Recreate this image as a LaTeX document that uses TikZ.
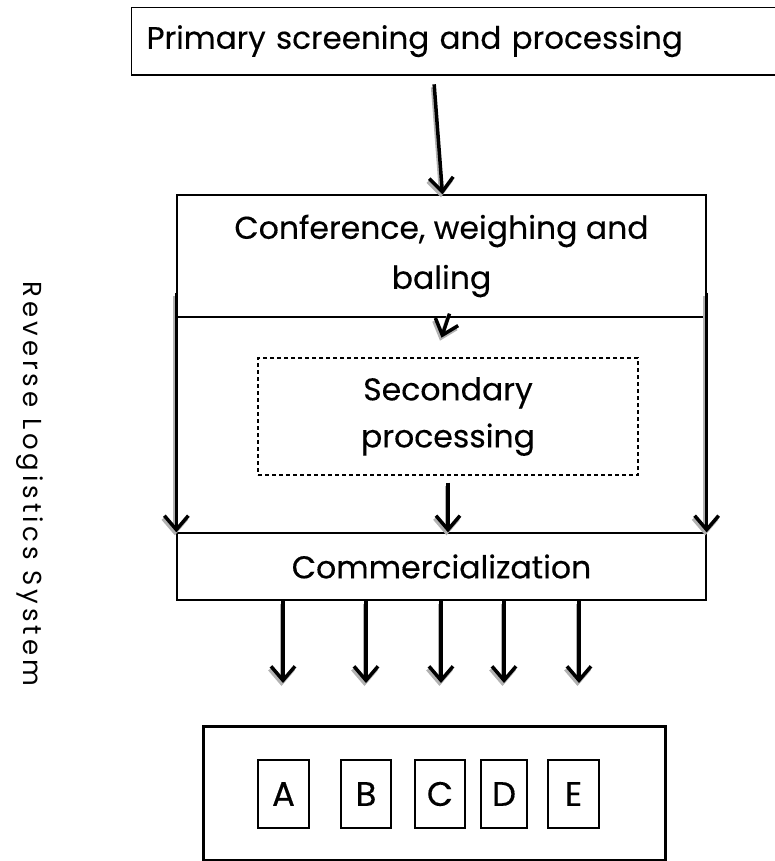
\documentclass[tikz,border=0pt]{standalone}
\usepackage{fontspec}
\setmainfont{Poppins}[FakeBold=0.3]
\newfontfamily\sidefont{Poppins}[LetterSpace=15]
\usetikzlibrary{arrows.meta,calc}
\begin{document}
\begin{tikzpicture}[x=1pt,y=-1pt,
  box/.style={draw, line width=1.3pt, inner sep=0pt},
  tipstyle/.style={-{Straight Barb[length=14pt,width=24pt]}},
  arr/.style={line width=3.5pt, tipstyle,
    preaction={draw=gray!60, line width=3.5pt, tipstyle, transform canvas={shift={(-1.5pt,-3pt)}}}},
  lbl/.style={font=\fontsize{31.5}{50}\selectfont, align=center},
  letter/.style={box, minimum height=68pt, font=\fontsize{34}{38}\selectfont}
]
\useasboundingbox (0,0) rectangle (775,861);

\node[box, anchor=north west, minimum height=67pt, text width=639pt, inner xsep=15pt, align=left, font=\fontsize{31}{36}\selectfont] (top) at (131,7) {Primary screening and processing};
\draw[line width=2.2pt] (top.south west) -- (top.south east);

\node[box, lbl, minimum width=529pt, minimum height=122pt] (conf) at (441.5,256) {Conference, weighing and\\baling};

\node[box, lbl, dashed, dash pattern=on 4pt off 3pt, minimum width=380pt, minimum height=117pt, font=\fontsize{31.5}{47}\selectfont] (sec) at (448,416.5) {Secondary\\processing};

\node[box, lbl, minimum width=529pt, minimum height=67pt] (com) at (441.5,566.5) {Commercialization};

\node[box, line width=3pt, minimum width=462pt, minimum height=134pt] (out) at (434,793) {};

\node[letter, minimum width=51pt] (A) at (283.5,794) {A};
\node[letter, minimum width=50pt] (B) at (366,794) {B};
\node[letter, minimum width=50pt] (C) at (440,794) {C};
\node[letter, minimum width=46pt] (D) at (504,794) {D};
\node[letter, minimum width=51pt] (E) at (573.5,794) {E};

\node[rotate=-90, font=\sidefont\fontsize{26}{30}\selectfont] (side) at (30,484) {Reverse Logistics System};

\draw[arr] ([shift={(-32,9)}]top.south) -- ([xshift=1pt]conf.north);
\draw[arr] ([shift={(8,-4)}]conf.south) -- ([shift={(0,20)}]conf.south);
\draw[arr] ([shift={(0,-25)}]conf.south west) -- (com.north west);
\draw[arr] ([shift={(0,-25)}]conf.south east) -- (com.north east);
\draw[arr] ([shift={(0,7)}]sec.south) -- (sec.south |- com.north);
\foreach \i/\x in {1/283,2/366,3/441,4/504,5/579}{
  \coordinate (t\i) at (\x,683);
  \draw[arr] (com.south -| t\i) -- (t\i);
}
\end{tikzpicture}
\end{document}
